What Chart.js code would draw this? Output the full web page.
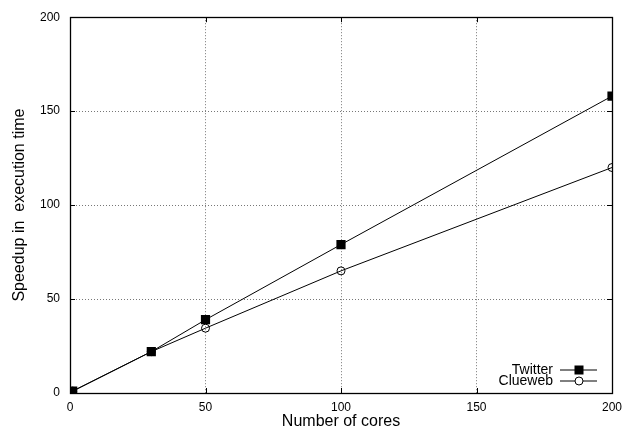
<!DOCTYPE html>
<html>
<head>
<meta charset="utf-8">
<script src="https://cdn.jsdelivr.net/npm/chart.js@4"></script>
<style>
  html, body { margin: 0; padding: 0; background: #fff; }
  #wrap { width: 633px; height: 433px; }
</style>
</head>
<body>
<div id="wrap"><canvas id="grafico" width="633" height="433"></canvas></div>
<script>
// Datos
const cores = [1, 30, 50, 100, 200];
const twitter = [1, 22, 39, 79, 158];
const clueweb = [1, 22, 34.5, 65, 120];
const ticksX = [0, 50, 100, 150, 200];
const ticksY = [0, 50, 100, 150, 200];

const FUENTE = "'Liberation Sans', Arial, Helvetica, sans-serif";

function puntos(ys) {
    return cores.map((x, i) => ({ x, y: ys[i] }));
}

// Marco negro y rayitas hacia dentro (estilo gnuplot)
const marco = {
    id: "marco",
    afterDatasetsDraw(chart) {
        const { ctx, chartArea: a, scales } = chart;
        ctx.save();
        ctx.strokeStyle = "#000";
        ctx.lineWidth = 1;
        ctx.beginPath();
        ticksY.forEach(v => {
            const y = Math.round(scales.y.getPixelForValue(v)) + 0.5;
            ctx.moveTo(a.left, y); ctx.lineTo(a.left + 5, y);
            ctx.moveTo(a.right, y); ctx.lineTo(a.right - 5, y);
        });
        ticksX.forEach(v => {
            const x = Math.round(scales.x.getPixelForValue(v)) + 0.5;
            ctx.moveTo(x, a.bottom); ctx.lineTo(x, a.bottom - 5);
            ctx.moveTo(x, a.top); ctx.lineTo(x, a.top + 5);
        });
        ctx.stroke();
        ctx.lineWidth = 1.3;
        ctx.strokeRect(Math.round(a.left) + 0.5, Math.round(a.top) + 0.5,
            Math.round(a.right - a.left), Math.round(a.bottom - a.top));

        // leyenda dentro del grafico, abajo a la derecha
        ctx.font = "14px " + FUENTE;
        ctx.textAlign = "right";
        ctx.textBaseline = "middle";
        ctx.fillStyle = "#000";
        chart.data.datasets.forEach((ds, i) => {
            const y = a.bottom - 23 + i * 11;
            ctx.fillText(ds.label, a.right - 59, y);
            ctx.beginPath();
            ctx.lineWidth = 1;
            ctx.moveTo(a.right - 52, y); ctx.lineTo(a.right - 15, y);
            ctx.stroke();
            const cx = a.right - 33;
            if (ds.pointStyle === "rect") {
                ctx.fillRect(cx - 4.5, y - 4.5, 9, 9);
            } else {
                ctx.beginPath();
                ctx.fillStyle = "#fff";
                ctx.arc(cx, y, 4, 0, Math.PI * 2);
                ctx.fill();
                ctx.stroke();
                ctx.fillStyle = "#000";
            }
        });
        ctx.restore();
    }
};

new Chart(document.getElementById("grafico").getContext("2d"), {
    type: "scatter",
    data: {
        datasets: [
            {
                label: "Twitter",
                data: puntos(twitter),
                showLine: true,
                borderColor: "#000",
                borderWidth: 1,
                backgroundColor: "#000",
                pointStyle: "rect",
                pointRadius: 6.5,
                pointBorderWidth: 0,
                pointRotation: 0
            },
            {
                label: "Clueweb",
                data: puntos(clueweb),
                showLine: true,
                borderColor: "#000",
                borderWidth: 1,
                backgroundColor: "rgba(255,255,255,0)",
                pointBackgroundColor: "rgba(255,255,255,0)",
                pointStyle: "circle",
                pointRadius: 4,
                pointBorderWidth: 1
            }
        ]
    },
    options: {
        responsive: false,
        animation: false,
        layout: { padding: { top: 11, right: 21, left: 0, bottom: 0 } },
        plugins: {
            legend: { display: false },
            tooltip: { enabled: false }
        },
        scales: {
            x: {
                type: "linear",
                min: 0, max: 200,
                afterBuildTicks: s => { s.ticks = ticksX.map(v => ({ value: v })); },
                afterFit: s => { s.height = 40; },
                ticks: { color: "#000", font: { family: FUENTE, size: 12 }, padding: 7 },
                grid: { color: "#777", drawTicks: false, lineWidth: 1 },
                border: { display: false, dash: [1, 2] },
                title: {
                    display: true, text: "Number of cores", color: "#000",
                    font: { family: FUENTE, size: 16 }, padding: { top: 0, bottom: 2 }
                }
            },
            y: {
                type: "linear",
                min: 0, max: 200,
                afterBuildTicks: s => { s.ticks = ticksY.map(v => ({ value: v })); },
                afterFit: s => { s.width = 70; },
                ticks: { color: "#000", font: { family: FUENTE, size: 12 }, padding: 10 },
                grid: { color: "#777", drawTicks: false, lineWidth: 1 },
                border: { display: false, dash: [1, 2] },
                title: {
                    display: true, text: "Speedup in  execution time", color: "#000",
                    font: { family: FUENTE, size: 16 }, padding: { top: 10, bottom: 0 }
                }
            }
        }
    },
    plugins: [marco]
});
</script>
</body>
</html>
